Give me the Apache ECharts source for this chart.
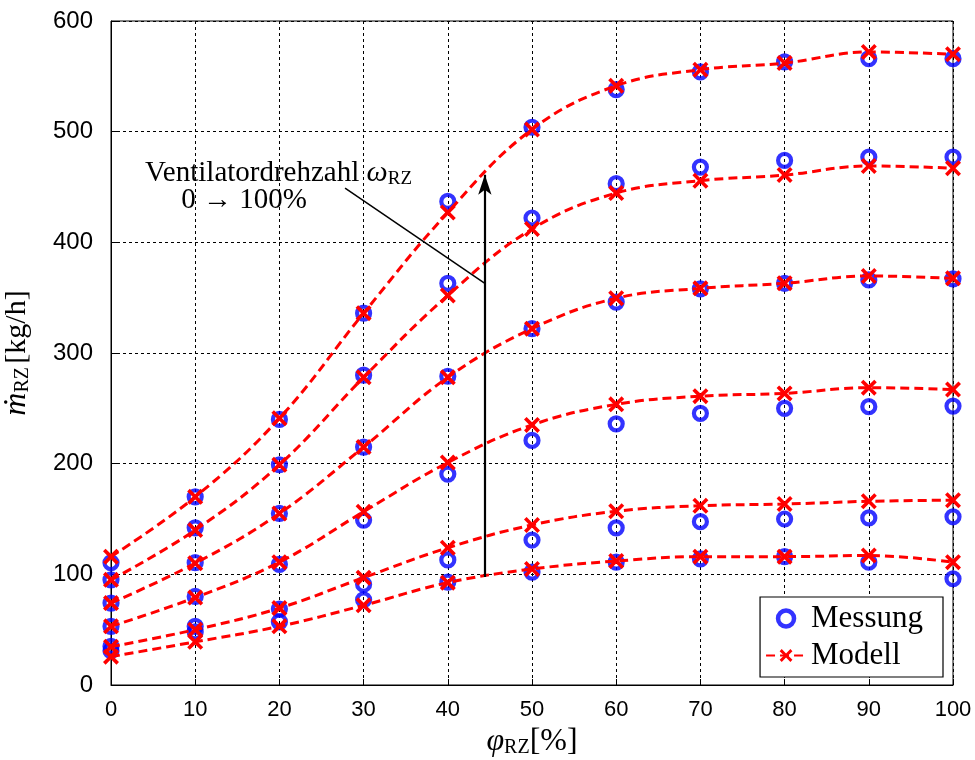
<!DOCTYPE html>
<html>
<head>
<meta charset="utf-8">
<script src="https://cdn.jsdelivr.net/npm/echarts@6/dist/echarts.min.js"></script>
<style>html,body{margin:0;padding:0;background:#fff}#c{width:975px;height:760px}</style>
</head>
<body>
<div id="c"></div>
<script>
// ---- data ----
const xValues = [0, 10, 20, 30, 40, 50, 60, 70, 80, 90, 100];
const xTicks = [0, 10, 20, 30, 40, 50, 60, 70, 80, 90, 100];
const yTicks = [0, 100, 200, 300, 400, 500, 600];

const modell1 = [25.6, 39, 53, 72, 92.5, 104.8, 112, 116, 116, 117, 111];
const modell2 = [34.6, 50, 69.5, 97, 124, 144.6, 157, 162, 163.5, 166, 167];
const modell3 = [53, 79, 111, 156.6, 201, 235, 253.6, 261, 263.5, 268.7, 267];
const modell4 = [74, 110, 155, 215, 278, 322, 349.5, 358.4, 363, 369.6, 367.5];
const modell5 = [95, 140, 199, 278, 352, 412, 444.5, 455.7, 460.8, 469, 467];
const modell6 = [116, 170, 241, 336, 427, 502, 541.5, 556, 562, 572, 570];

const messung1 = [31, 48, 57, 77, 93, 102, 111, 114, 116, 111, 96];
const messung2 = [35, 53, 68.6, 91, 113, 131, 142, 147.6, 150, 151, 152];
const messung3 = [53, 80, 109, 149, 190.6, 221, 236, 245.5, 250, 251.5, 252];
const messung4 = [74, 110.5, 155, 215, 279, 322, 346, 358, 363, 366, 367];
const messung5 = [95, 142, 199, 280, 363, 422, 453, 468, 474, 477, 477];
const messung6 = [110.5, 170, 240, 336, 437, 504, 538, 554, 563, 566, 566];

const modellSets = [modell1, modell2, modell3, modell4, modell5, modell6];
const messungSets = [messung1, messung2, messung3, messung4, messung5, messung6];

// annotation anchors (data space)
const arrowStart = [44.4, 97.5];
const arrowEnd = [44.4, 461];
const pointerStart = [27.8, 449];
const pointerEnd = [44.4, 363];
const label1Pos = [19.9, 462.5];
const label2Pos = [15.8, 438];

// ---- chart ----
const crossPath = 'path://M0,1.6L1.6,0L5,3.4L8.4,0L10,1.6L6.6,5L10,8.4L8.4,10L5,6.6L1.6,10L0,8.4L3.4,5Z';
const serif = 'Liberation Serif';
const sans = 'Liberation Sans';
const pair = arr => xValues.map((x, i) => [x, arr[i]]);

const series = [];
messungSets.forEach(arr => {
  series.push({
    name: 'Messung', type: 'scatter', data: pair(arr), z: 3,
    symbol: 'circle', symbolSize: 13,
    itemStyle: { color: 'rgba(255,255,255,0)', borderColor: '#0000ff', borderWidth: 4.2 },
    emphasis: { disabled: true }
  });
});
modellSets.forEach(arr => {
  series.push({
    name: 'Modell', type: 'line', data: pair(arr), z: 4,
    smooth: 0.4,
    symbol: crossPath, symbolSize: 16, showAllSymbol: true,
    lineStyle: { color: '#ff0000', width: 3, type: [9, 5] },
    itemStyle: { color: '#ff0000' },
    emphasis: { disabled: true }
  });
});
series.push({
  type: 'line', data: [], silent: true, z: 5,
  markLine: {
    silent: true, animation: false,
    label: { show: false },
    data: [
      [{ coord: arrowStart, symbol: 'none', lineStyle: { color: '#000', width: 2.2, type: 'solid' } },
       { coord: arrowEnd, symbol: 'arrow', symbolSize: [10, 20] }],
      [{ coord: pointerStart, symbol: 'none', lineStyle: { color: '#000', width: 1.5, type: 'solid' } },
       { coord: pointerEnd, symbol: 'none' }]
    ]
  },
  markPoint: {
    silent: true, animation: false,
    symbol: 'circle', symbolSize: 1,
    itemStyle: { color: 'rgba(0,0,0,0)' },
    label: {
      show: true, position: 'inside', color: '#000',
      fontFamily: serif, fontSize: 29,
      rich: {
        t: { fontFamily: serif, fontSize: 29, color: '#000' },
        w: { fontFamily: serif, fontSize: 30, fontStyle: 'italic', color: '#000' },
        s: { fontFamily: serif, fontSize: 19, color: '#000', padding: [12, 0, 0, 0] }
      }
    },
    data: [
      { coord: label1Pos, label: { formatter: '{t|Ventilatordrehzahl }{w|ω}{s|RZ}' } },
      { coord: label2Pos, label: { formatter: '{t|0 → 100%}' } }
    ]
  }
});

const chart = echarts.init(document.getElementById('c'), null, { renderer: 'canvas' });
chart.setOption({
  animation: false,
  backgroundColor: '#fff',
  grid: { left: 111, right: 22, top: 21, bottom: 75, outerBoundsMode: 'none', containLabel: false,
          show: true, borderColor: '#000', borderWidth: 1, backgroundColor: 'rgba(0,0,0,0)' },
  legend: {
    data: [
      { name: 'Messung', itemStyle: { color: 'rgba(255,255,255,0)', borderColor: '#0000ff', borderWidth: 4.5 } },
      { name: 'Modell' }
    ],
    orient: 'vertical', right: 32, bottom: 83,
    backgroundColor: '#fff', borderColor: '#000', borderWidth: 1.2, borderRadius: 0,
    padding: [6, 20, 6, 5], itemGap: 6, itemWidth: 40, itemHeight: 16,
    textStyle: { fontFamily: serif, fontSize: 31, color: '#000' },
    selectedMode: false
  },
  xAxis: {
    type: 'value', min: 0, max: 100, interval: 10,
    name: '{v|φ}{s|RZ}{b|[%]}', nameLocation: 'middle', nameGap: 38,
    nameTextStyle: {
      rich: {
        v: { fontFamily: serif, fontSize: 32, fontStyle: 'italic', color: '#000' },
        s: { fontFamily: serif, fontSize: 20, color: '#000', padding: [12, 0, 0, 0] },
        b: { fontFamily: serif, fontSize: 32, color: '#000' }
      }
    },
    axisLine: { show: true, lineStyle: { color: '#000', width: 1 } },
    axisTick: { show: true, inside: true, length: 6, lineStyle: { color: '#000' } },
    axisLabel: { fontFamily: sans, fontSize: 22, color: '#000', margin: 14 },
    splitLine: { show: true, lineStyle: { color: '#000', width: 1, type: [3, 3] } }
  },
  yAxis: {
    type: 'value', min: 0, max: 600, interval: 100,
    name: '{m|ṁ}{s|RZ} {b|[kg/h]}', nameLocation: 'middle', nameGap: 78, nameRotate: 90,
    nameTextStyle: {
      rich: {
        m: { fontFamily: serif, fontSize: 32, fontStyle: 'italic', color: '#000' },
        s: { fontFamily: serif, fontSize: 20, color: '#000', padding: [12, 0, 0, 0] },
        b: { fontFamily: serif, fontSize: 30, color: '#000' }
      }
    },
    axisLine: { show: true, lineStyle: { color: '#000', width: 1 } },
    axisTick: { show: true, inside: true, length: 6, lineStyle: { color: '#000' } },
    axisLabel: { fontFamily: sans, fontSize: 24, color: '#000', margin: 18 },
    splitLine: { show: true, lineStyle: { color: '#000', width: 1, type: [3, 3] } }
  },
  series: series
});
</script>
</body>
</html>
